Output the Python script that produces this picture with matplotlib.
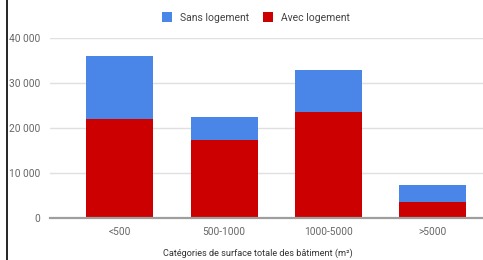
import matplotlib
matplotlib.use("Agg")
import matplotlib.pyplot as plt
from matplotlib.patches import Patch
from matplotlib.lines import Line2D
from matplotlib.ticker import FuncFormatter

plt.rcParams['font.family'] = ['Roboto', 'DejaVu Sans']

categories = ["<500", "500-1000", "1000-5000", ">5000"]
avec_logement = [22000, 17400, 23700, 3600]
sans_logement = [14000, 5200, 9300, 3700]

blue = "#4a86e8"
red = "#cc0000"

W, H = 483, 260
fig = plt.figure(figsize=(W / 100, H / 100), dpi=100)
ax = fig.add_axes([50 / W, (H - 218.3) / H, (W - 50) / W, (218.3 - 38.3) / H])

x = range(len(categories))
ax.bar(x, avec_logement, width=0.642, color=red, zorder=3)
ax.bar(x, sans_logement, width=0.642, bottom=avec_logement, color=blue, zorder=3)

ax.set_xlim(-0.668, 3.482)
ax.set_ylim(0, 40000)
ax.set_yticks([0, 10000, 20000, 30000, 40000])
ax.yaxis.set_major_formatter(FuncFormatter(lambda v, p: f"{int(v):,}".replace(",", " ")))
ax.set_xticks(list(x))
ax.set_xticklabels(categories)

ax.grid(axis='y', color="#e0e0e0", linewidth=1, zorder=0)
for s in ax.spines.values():
    s.set_visible(False)
ax.axhline(0, color="#9e9e9e", linewidth=1.6, zorder=4, clip_on=False)
ax.tick_params(axis='both', length=0, labelsize=7.3, labelcolor="#666666")
ax.tick_params(axis='y', pad=7)
ax.tick_params(axis='x', pad=6)

fig.text(258 / W, 1 - 253 / H, "Catégories de surface totale des bâtiment (m²)",
         ha='center', va='center', fontsize=6.6, color="#333333")

handles = [Patch(facecolor=blue, label="Sans logement"),
           Patch(facecolor=red, label="Avec logement")]
leg = fig.legend(handles=handles, loc='center', bbox_to_anchor=(256 / W, 1 - 17.5 / H),
                 ncol=2, frameon=False, fontsize=7.5, handlelength=0.96, handleheight=0.96,
                 handletextpad=0.75, columnspacing=1.4, borderpad=0)
for t in leg.get_texts():
    t.set_color("#444444")

# cadre gauche
fig.add_artist(Line2D([6.5 / W, 6.5 / W], [0, 1], color="black", linewidth=1.2,
                      transform=fig.transFigure))

fig.savefig("out.png", dpi=100)
